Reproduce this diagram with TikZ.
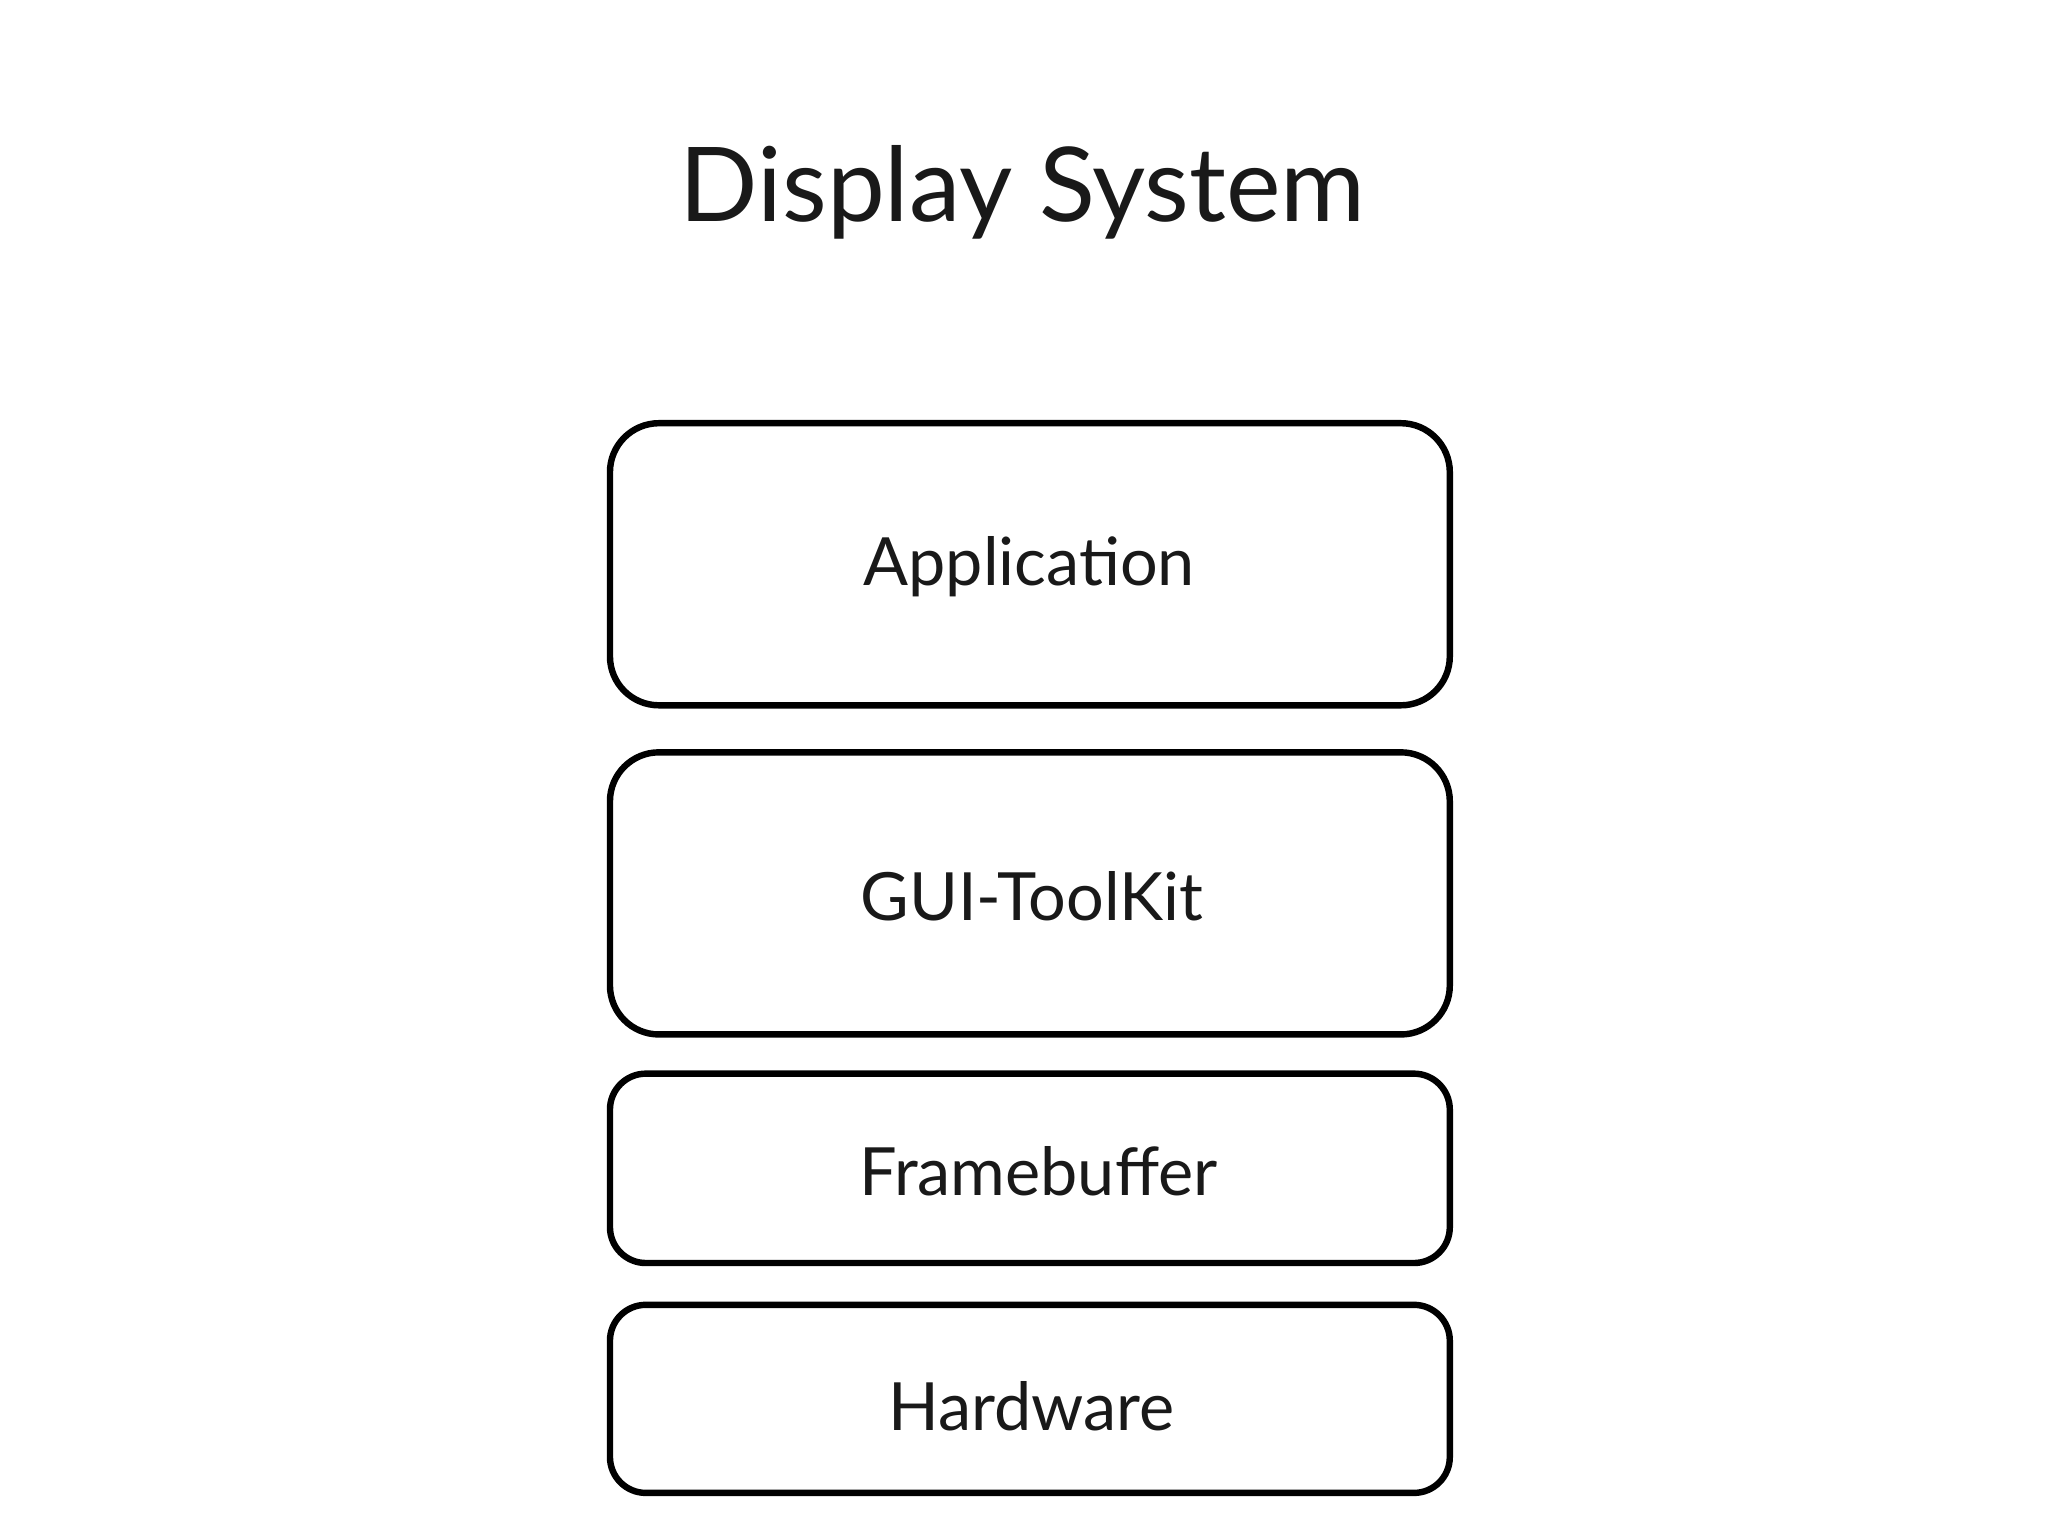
\documentclass[tikz,border=0pt]{standalone}
\usepackage{fontspec}
\setmainfont{Lato}
\begin{document}
\begin{tikzpicture}[x=0.02cm,y=-0.02cm,
  layer/.style={draw=black,line width=2.8pt,fill=white},
  lbl/.style={font=\fontsize{29}{34}\selectfont,text=black!90}]
\useasboundingbox (0,0) rectangle (1568,1176);
\node[font=\fontsize{45}{52}\selectfont,text=black!90] (title) at (783,147) {Display System};
\draw[layer,rounded corners=0.75cm] (467,324) rectangle (1110,540);
\node[lbl] (app) at (788,434) {Application};
\draw[layer,rounded corners=0.75cm] (467,576) rectangle (1110,792);
\node[lbl] (gui) at (790,686) {GUI-ToolKit};
\draw[layer,rounded corners=0.55cm] (467,822) rectangle (1110,967);
\node[lbl] (fb) at (795,897) {Framebuffer};
\draw[layer,rounded corners=0.55cm] (467,999) rectangle (1110,1143);
\node[lbl] (hw) at (790,1077) {Hardware};
\end{tikzpicture}
\end{document}
